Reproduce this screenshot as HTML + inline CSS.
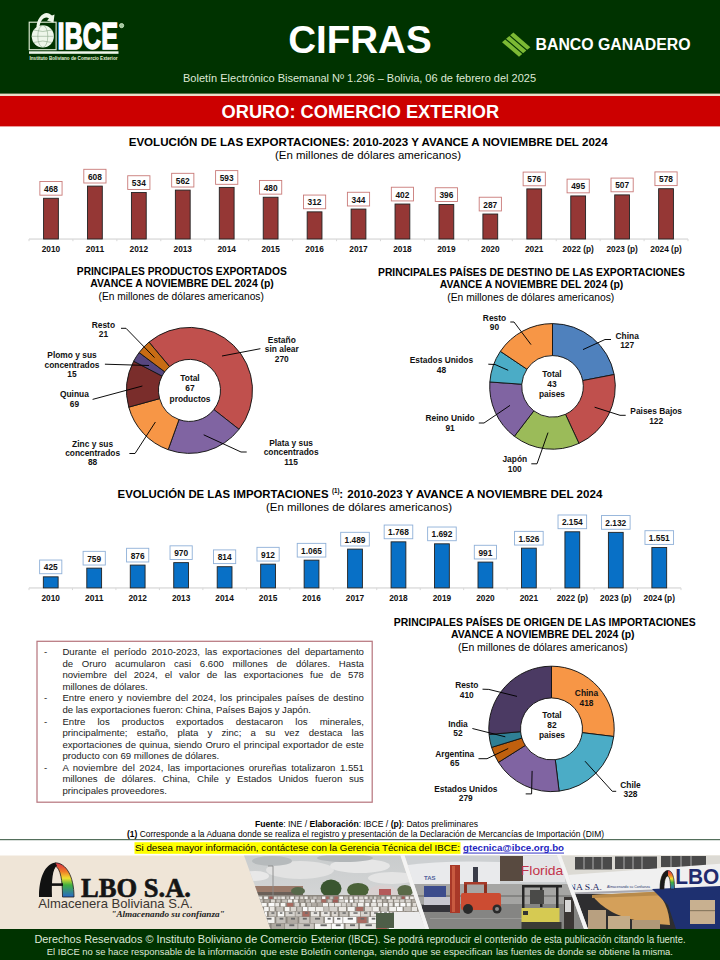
<!DOCTYPE html>
<html><head><meta charset="utf-8"><style>
html,body{margin:0;padding:0;background:#fff;}
#w{position:relative;width:720px;height:960px;overflow:hidden;}
svg{position:absolute;left:0;top:0;font-family:"Liberation Sans", sans-serif;}
.tb{position:absolute;font-family:"Liberation Sans", sans-serif;font-size:9.6px;line-height:11.58px;color:#222;white-space:nowrap;}
.tb.j{text-align:justify;text-align-last:justify;white-space:normal;}
</style></head><body><div id="w">
<svg width="720" height="960" viewBox="0 0 720 960">
<rect x="0.00" y="0.00" width="720.00" height="94.00" fill="#003300"/>
<rect x="0.00" y="93.60" width="720.00" height="2.50" fill="#ecdcc8"/>
<rect x="0.00" y="96.00" width="720.00" height="30.40" fill="#cc0000"/>
<text x="288.20" y="52.60" font-size="38" font-weight="bold" fill="#fff" textLength="143.5" lengthAdjust="spacingAndGlyphs">CIFRAS</text>
<text x="183.00" y="82.00" font-size="11.6" fill="#dfe9d6" textLength="353" lengthAdjust="spacingAndGlyphs">Boletín Electrónico Bisemanal Nº 1.296 – Bolivia, 06 de febrero del 2025</text>
<text x="221.60" y="117.90" font-size="18.2" font-weight="bold" fill="#fff" textLength="277.5" lengthAdjust="spacingAndGlyphs">ORURO: COMERCIO EXTERIOR</text>
<polygon points="509.0,32.0 515.0,32.0 531.0,46.0" fill="none"/>
<polygon points="515.2,32.0 521.2,32.0 531.0,46.0" fill="none"/>
<polygon points="521.4,32.0 527.4,32.0 531.0,46.0" fill="none"/>
<polygon points="502.03,42.14 505.24,39.43 522.24,54.03 519.03,56.74" fill="#7cb934"/><polygon points="506.09,38.71 509.31,35.99 526.31,50.59 523.09,53.31" fill="#7cb934"/><polygon points="510.16,35.27 513.37,32.56 530.37,47.16 527.16,49.87" fill="#7cb934"/>
<text x="535.50" y="49.60" font-size="15.6" font-weight="bold" fill="#fff" textLength="155" lengthAdjust="spacingAndGlyphs">BANCO GANADERO</text>
<g stroke="#e6f2dc" fill="none"><rect x="29.2" y="22.2" width="26.9" height="27.5" stroke-width="1.1"/></g>
<circle cx="42.8" cy="36.3" r="11.1" fill="#eef6ea"/>
<g stroke="#7a9a78" stroke-width="0.5" fill="none"><ellipse cx="42.8" cy="36.3" rx="5" ry="11"/><line x1="31.7" y1="36.3" x2="53.9" y2="36.3"/><path d="M33.5,30 Q42.8,33 52,30"/><path d="M33.5,42.5 Q42.8,39.5 52,42.5"/></g>
<path d="M36.5,29 C36,18 44,11 49,13.5 L52,15.5 L54.5,14.5 L53.5,22.5 L47,20.5 L49,18.5 C45,15.5 40,20 39.5,27 Z" fill="#eef6ea"/>
<text x="57.60" y="48.50" font-size="36.2" font-weight="bold" fill="#fff" textLength="60.4" lengthAdjust="spacingAndGlyphs" stroke="#fff" stroke-width="1.5">IBCE</text>
<circle cx="121.6" cy="25.6" r="2.1" fill="#9fc49a" stroke="#d8ecd0" stroke-width="0.8"/>
<rect x="29.00" y="51.30" width="89.50" height="2.50" fill="#eef6ea"/>
<text x="29.50" y="59.50" font-size="5.2" font-weight="bold" fill="#e6f2dc" textLength="88" lengthAdjust="spacingAndGlyphs">Instituto Boliviano de Comercio Exterior</text>
<text x="368.20" y="146.00" font-size="11.6" font-weight="bold" text-anchor="middle" fill="#000" textLength="479" lengthAdjust="spacingAndGlyphs">EVOLUCIÓN DE LAS EXPORTACIONES: 2010-2023 Y AVANCE A NOVIEMBRE DEL 2024</text>
<text x="368.00" y="158.50" font-size="11.4" text-anchor="middle" fill="#000" textLength="186" lengthAdjust="spacingAndGlyphs">(En millones de dólares americanos)</text>
<rect x="29.00" y="238.40" width="659.00" height="1.30" fill="#d9d9d9"/>
<rect x="28.50" y="239.00" width="1.00" height="2.20" fill="#d9d9d9"/>
<rect x="72.43" y="239.00" width="1.00" height="2.20" fill="#d9d9d9"/>
<rect x="116.37" y="239.00" width="1.00" height="2.20" fill="#d9d9d9"/>
<rect x="160.30" y="239.00" width="1.00" height="2.20" fill="#d9d9d9"/>
<rect x="204.23" y="239.00" width="1.00" height="2.20" fill="#d9d9d9"/>
<rect x="248.17" y="239.00" width="1.00" height="2.20" fill="#d9d9d9"/>
<rect x="292.10" y="239.00" width="1.00" height="2.20" fill="#d9d9d9"/>
<rect x="336.03" y="239.00" width="1.00" height="2.20" fill="#d9d9d9"/>
<rect x="379.97" y="239.00" width="1.00" height="2.20" fill="#d9d9d9"/>
<rect x="423.90" y="239.00" width="1.00" height="2.20" fill="#d9d9d9"/>
<rect x="467.83" y="239.00" width="1.00" height="2.20" fill="#d9d9d9"/>
<rect x="511.77" y="239.00" width="1.00" height="2.20" fill="#d9d9d9"/>
<rect x="555.70" y="239.00" width="1.00" height="2.20" fill="#d9d9d9"/>
<rect x="599.63" y="239.00" width="1.00" height="2.20" fill="#d9d9d9"/>
<rect x="643.57" y="239.00" width="1.00" height="2.20" fill="#d9d9d9"/>
<rect x="687.50" y="239.00" width="1.00" height="2.20" fill="#d9d9d9"/>
<rect x="43.57" y="198.28" width="14.80" height="40.72" fill="#953735" stroke="#222" stroke-width="0.9"/>
<rect x="39.87" y="181.48" width="22.20" height="13.70" fill="#fff" stroke="#c97a78" stroke-width="0.9"/>
<text x="50.97" y="191.78" font-size="9.0" font-weight="bold" text-anchor="middle" fill="#111" textLength="13.93" lengthAdjust="spacingAndGlyphs">468</text>
<text x="50.97" y="251.70" font-size="8.9" font-weight="bold" text-anchor="middle" fill="#111" textLength="18.46" lengthAdjust="spacingAndGlyphs">2010</text>
<rect x="87.50" y="186.10" width="14.80" height="52.90" fill="#953735" stroke="#222" stroke-width="0.9"/>
<rect x="83.80" y="169.30" width="22.20" height="13.70" fill="#fff" stroke="#c97a78" stroke-width="0.9"/>
<text x="94.90" y="179.60" font-size="9.0" font-weight="bold" text-anchor="middle" fill="#111" textLength="13.93" lengthAdjust="spacingAndGlyphs">608</text>
<text x="94.90" y="251.70" font-size="8.9" font-weight="bold" text-anchor="middle" fill="#111" textLength="18.46" lengthAdjust="spacingAndGlyphs">2011</text>
<rect x="131.43" y="192.54" width="14.80" height="46.46" fill="#953735" stroke="#222" stroke-width="0.9"/>
<rect x="127.73" y="175.74" width="22.20" height="13.70" fill="#fff" stroke="#c97a78" stroke-width="0.9"/>
<text x="138.83" y="186.04" font-size="9.0" font-weight="bold" text-anchor="middle" fill="#111" textLength="13.93" lengthAdjust="spacingAndGlyphs">534</text>
<text x="138.83" y="251.70" font-size="8.9" font-weight="bold" text-anchor="middle" fill="#111" textLength="18.46" lengthAdjust="spacingAndGlyphs">2012</text>
<rect x="175.37" y="190.11" width="14.80" height="48.89" fill="#953735" stroke="#222" stroke-width="0.9"/>
<rect x="171.67" y="173.31" width="22.20" height="13.70" fill="#fff" stroke="#c97a78" stroke-width="0.9"/>
<text x="182.77" y="183.61" font-size="9.0" font-weight="bold" text-anchor="middle" fill="#111" textLength="13.93" lengthAdjust="spacingAndGlyphs">562</text>
<text x="182.77" y="251.70" font-size="8.9" font-weight="bold" text-anchor="middle" fill="#111" textLength="18.46" lengthAdjust="spacingAndGlyphs">2013</text>
<rect x="219.30" y="187.41" width="14.80" height="51.59" fill="#953735" stroke="#222" stroke-width="0.9"/>
<rect x="215.60" y="170.61" width="22.20" height="13.70" fill="#fff" stroke="#c97a78" stroke-width="0.9"/>
<text x="226.70" y="180.91" font-size="9.0" font-weight="bold" text-anchor="middle" fill="#111" textLength="13.93" lengthAdjust="spacingAndGlyphs">593</text>
<text x="226.70" y="251.70" font-size="8.9" font-weight="bold" text-anchor="middle" fill="#111" textLength="18.46" lengthAdjust="spacingAndGlyphs">2014</text>
<rect x="263.23" y="197.24" width="14.80" height="41.76" fill="#953735" stroke="#222" stroke-width="0.9"/>
<rect x="259.53" y="180.44" width="22.20" height="13.70" fill="#fff" stroke="#c97a78" stroke-width="0.9"/>
<text x="270.63" y="190.74" font-size="9.0" font-weight="bold" text-anchor="middle" fill="#111" textLength="13.93" lengthAdjust="spacingAndGlyphs">480</text>
<text x="270.63" y="251.70" font-size="8.9" font-weight="bold" text-anchor="middle" fill="#111" textLength="18.46" lengthAdjust="spacingAndGlyphs">2015</text>
<rect x="307.17" y="211.86" width="14.80" height="27.14" fill="#953735" stroke="#222" stroke-width="0.9"/>
<rect x="303.47" y="195.06" width="22.20" height="13.70" fill="#fff" stroke="#c97a78" stroke-width="0.9"/>
<text x="314.57" y="205.36" font-size="9.0" font-weight="bold" text-anchor="middle" fill="#111" textLength="13.93" lengthAdjust="spacingAndGlyphs">312</text>
<text x="314.57" y="251.70" font-size="8.9" font-weight="bold" text-anchor="middle" fill="#111" textLength="18.46" lengthAdjust="spacingAndGlyphs">2016</text>
<rect x="351.10" y="209.07" width="14.80" height="29.93" fill="#953735" stroke="#222" stroke-width="0.9"/>
<rect x="347.40" y="192.27" width="22.20" height="13.70" fill="#fff" stroke="#c97a78" stroke-width="0.9"/>
<text x="358.50" y="202.57" font-size="9.0" font-weight="bold" text-anchor="middle" fill="#111" textLength="13.93" lengthAdjust="spacingAndGlyphs">344</text>
<text x="358.50" y="251.70" font-size="8.9" font-weight="bold" text-anchor="middle" fill="#111" textLength="18.46" lengthAdjust="spacingAndGlyphs">2017</text>
<rect x="395.03" y="204.03" width="14.80" height="34.97" fill="#953735" stroke="#222" stroke-width="0.9"/>
<rect x="391.33" y="187.23" width="22.20" height="13.70" fill="#fff" stroke="#c97a78" stroke-width="0.9"/>
<text x="402.43" y="197.53" font-size="9.0" font-weight="bold" text-anchor="middle" fill="#111" textLength="13.93" lengthAdjust="spacingAndGlyphs">402</text>
<text x="402.43" y="251.70" font-size="8.9" font-weight="bold" text-anchor="middle" fill="#111" textLength="18.46" lengthAdjust="spacingAndGlyphs">2018</text>
<rect x="438.97" y="204.55" width="14.80" height="34.45" fill="#953735" stroke="#222" stroke-width="0.9"/>
<rect x="435.27" y="187.75" width="22.20" height="13.70" fill="#fff" stroke="#c97a78" stroke-width="0.9"/>
<text x="446.37" y="198.05" font-size="9.0" font-weight="bold" text-anchor="middle" fill="#111" textLength="13.93" lengthAdjust="spacingAndGlyphs">396</text>
<text x="446.37" y="251.70" font-size="8.9" font-weight="bold" text-anchor="middle" fill="#111" textLength="18.46" lengthAdjust="spacingAndGlyphs">2019</text>
<rect x="482.90" y="214.03" width="14.80" height="24.97" fill="#953735" stroke="#222" stroke-width="0.9"/>
<rect x="479.20" y="197.23" width="22.20" height="13.70" fill="#fff" stroke="#c97a78" stroke-width="0.9"/>
<text x="490.30" y="207.53" font-size="9.0" font-weight="bold" text-anchor="middle" fill="#111" textLength="13.93" lengthAdjust="spacingAndGlyphs">287</text>
<text x="490.30" y="251.70" font-size="8.9" font-weight="bold" text-anchor="middle" fill="#111" textLength="18.46" lengthAdjust="spacingAndGlyphs">2020</text>
<rect x="526.83" y="188.89" width="14.80" height="50.11" fill="#953735" stroke="#222" stroke-width="0.9"/>
<rect x="523.13" y="172.09" width="22.20" height="13.70" fill="#fff" stroke="#c97a78" stroke-width="0.9"/>
<text x="534.23" y="182.39" font-size="9.0" font-weight="bold" text-anchor="middle" fill="#111" textLength="13.93" lengthAdjust="spacingAndGlyphs">576</text>
<text x="534.23" y="251.70" font-size="8.9" font-weight="bold" text-anchor="middle" fill="#111" textLength="18.46" lengthAdjust="spacingAndGlyphs">2021</text>
<rect x="570.77" y="195.94" width="14.80" height="43.06" fill="#953735" stroke="#222" stroke-width="0.9"/>
<rect x="567.07" y="179.14" width="22.20" height="13.70" fill="#fff" stroke="#c97a78" stroke-width="0.9"/>
<text x="578.17" y="189.44" font-size="9.0" font-weight="bold" text-anchor="middle" fill="#111" textLength="13.93" lengthAdjust="spacingAndGlyphs">495</text>
<text x="578.17" y="251.70" font-size="8.9" font-weight="bold" text-anchor="middle" fill="#111" textLength="31.37" lengthAdjust="spacingAndGlyphs">2022 (p)</text>
<rect x="614.70" y="194.89" width="14.80" height="44.11" fill="#953735" stroke="#222" stroke-width="0.9"/>
<rect x="611.00" y="178.09" width="22.20" height="13.70" fill="#fff" stroke="#c97a78" stroke-width="0.9"/>
<text x="622.10" y="188.39" font-size="9.0" font-weight="bold" text-anchor="middle" fill="#111" textLength="13.93" lengthAdjust="spacingAndGlyphs">507</text>
<text x="622.10" y="251.70" font-size="8.9" font-weight="bold" text-anchor="middle" fill="#111" textLength="31.37" lengthAdjust="spacingAndGlyphs">2023 (p)</text>
<rect x="658.63" y="188.71" width="14.80" height="50.29" fill="#953735" stroke="#222" stroke-width="0.9"/>
<rect x="654.93" y="171.91" width="22.20" height="13.70" fill="#fff" stroke="#c97a78" stroke-width="0.9"/>
<text x="666.03" y="182.21" font-size="9.0" font-weight="bold" text-anchor="middle" fill="#111" textLength="13.93" lengthAdjust="spacingAndGlyphs">578</text>
<text x="666.03" y="251.70" font-size="8.9" font-weight="bold" text-anchor="middle" fill="#111" textLength="31.37" lengthAdjust="spacingAndGlyphs">2024 (p)</text>
<text x="117.60" y="498.20" font-size="11.6" font-weight="bold" fill="#000" textLength="210.9" lengthAdjust="spacingAndGlyphs">EVOLUCIÓN DE LAS IMPORTACIONES</text>
<text x="332.00" y="492.60" font-size="7" font-weight="bold" fill="#000" textLength="7.6" lengthAdjust="spacingAndGlyphs">(1)</text>
<text x="339.20" y="498.20" font-size="11.6" font-weight="bold" fill="#000">:</text>
<text x="347.20" y="498.20" font-size="11.6" font-weight="bold" fill="#000" textLength="255.2" lengthAdjust="spacingAndGlyphs">2010-2023 Y AVANCE A NOVIEMBRE DEL 2024</text>
<text x="359.00" y="511.30" font-size="11.4" text-anchor="middle" fill="#000" textLength="186" lengthAdjust="spacingAndGlyphs">(En millones de dólares americanos)</text>
<rect x="29.00" y="587.30" width="652.00" height="1.30" fill="#d9d9d9"/>
<rect x="28.50" y="587.90" width="1.00" height="2.20" fill="#d9d9d9"/>
<rect x="71.97" y="587.90" width="1.00" height="2.20" fill="#d9d9d9"/>
<rect x="115.43" y="587.90" width="1.00" height="2.20" fill="#d9d9d9"/>
<rect x="158.90" y="587.90" width="1.00" height="2.20" fill="#d9d9d9"/>
<rect x="202.37" y="587.90" width="1.00" height="2.20" fill="#d9d9d9"/>
<rect x="245.83" y="587.90" width="1.00" height="2.20" fill="#d9d9d9"/>
<rect x="289.30" y="587.90" width="1.00" height="2.20" fill="#d9d9d9"/>
<rect x="332.77" y="587.90" width="1.00" height="2.20" fill="#d9d9d9"/>
<rect x="376.23" y="587.90" width="1.00" height="2.20" fill="#d9d9d9"/>
<rect x="419.70" y="587.90" width="1.00" height="2.20" fill="#d9d9d9"/>
<rect x="463.17" y="587.90" width="1.00" height="2.20" fill="#d9d9d9"/>
<rect x="506.63" y="587.90" width="1.00" height="2.20" fill="#d9d9d9"/>
<rect x="550.10" y="587.90" width="1.00" height="2.20" fill="#d9d9d9"/>
<rect x="593.57" y="587.90" width="1.00" height="2.20" fill="#d9d9d9"/>
<rect x="637.03" y="587.90" width="1.00" height="2.20" fill="#d9d9d9"/>
<rect x="680.50" y="587.90" width="1.00" height="2.20" fill="#d9d9d9"/>
<rect x="43.33" y="576.83" width="14.80" height="11.07" fill="#0870c6" stroke="#222" stroke-width="0.9"/>
<rect x="39.63" y="560.03" width="22.20" height="13.70" fill="#fff" stroke="#8fb0d8" stroke-width="0.9"/>
<text x="50.73" y="570.33" font-size="9.0" font-weight="bold" text-anchor="middle" fill="#111" textLength="13.93" lengthAdjust="spacingAndGlyphs">425</text>
<text x="50.73" y="601.20" font-size="8.9" font-weight="bold" text-anchor="middle" fill="#111" textLength="18.46" lengthAdjust="spacingAndGlyphs">2010</text>
<rect x="86.80" y="568.13" width="14.80" height="19.77" fill="#0870c6" stroke="#222" stroke-width="0.9"/>
<rect x="83.10" y="551.33" width="22.20" height="13.70" fill="#fff" stroke="#8fb0d8" stroke-width="0.9"/>
<text x="94.20" y="561.63" font-size="9.0" font-weight="bold" text-anchor="middle" fill="#111" textLength="13.93" lengthAdjust="spacingAndGlyphs">759</text>
<text x="94.20" y="601.20" font-size="8.9" font-weight="bold" text-anchor="middle" fill="#111" textLength="18.46" lengthAdjust="spacingAndGlyphs">2011</text>
<rect x="130.27" y="565.08" width="14.80" height="22.82" fill="#0870c6" stroke="#222" stroke-width="0.9"/>
<rect x="126.57" y="548.28" width="22.20" height="13.70" fill="#fff" stroke="#8fb0d8" stroke-width="0.9"/>
<text x="137.67" y="558.58" font-size="9.0" font-weight="bold" text-anchor="middle" fill="#111" textLength="13.93" lengthAdjust="spacingAndGlyphs">876</text>
<text x="137.67" y="601.20" font-size="8.9" font-weight="bold" text-anchor="middle" fill="#111" textLength="18.46" lengthAdjust="spacingAndGlyphs">2012</text>
<rect x="173.73" y="562.63" width="14.80" height="25.27" fill="#0870c6" stroke="#222" stroke-width="0.9"/>
<rect x="170.03" y="545.83" width="22.20" height="13.70" fill="#fff" stroke="#8fb0d8" stroke-width="0.9"/>
<text x="181.13" y="556.13" font-size="9.0" font-weight="bold" text-anchor="middle" fill="#111" textLength="13.93" lengthAdjust="spacingAndGlyphs">970</text>
<text x="181.13" y="601.20" font-size="8.9" font-weight="bold" text-anchor="middle" fill="#111" textLength="18.46" lengthAdjust="spacingAndGlyphs">2013</text>
<rect x="217.20" y="566.70" width="14.80" height="21.20" fill="#0870c6" stroke="#222" stroke-width="0.9"/>
<rect x="213.50" y="549.90" width="22.20" height="13.70" fill="#fff" stroke="#8fb0d8" stroke-width="0.9"/>
<text x="224.60" y="560.20" font-size="9.0" font-weight="bold" text-anchor="middle" fill="#111" textLength="13.93" lengthAdjust="spacingAndGlyphs">814</text>
<text x="224.60" y="601.20" font-size="8.9" font-weight="bold" text-anchor="middle" fill="#111" textLength="18.46" lengthAdjust="spacingAndGlyphs">2014</text>
<rect x="260.67" y="564.14" width="14.80" height="23.76" fill="#0870c6" stroke="#222" stroke-width="0.9"/>
<rect x="256.97" y="547.34" width="22.20" height="13.70" fill="#fff" stroke="#8fb0d8" stroke-width="0.9"/>
<text x="268.07" y="557.64" font-size="9.0" font-weight="bold" text-anchor="middle" fill="#111" textLength="13.93" lengthAdjust="spacingAndGlyphs">912</text>
<text x="268.07" y="601.20" font-size="8.9" font-weight="bold" text-anchor="middle" fill="#111" textLength="18.46" lengthAdjust="spacingAndGlyphs">2015</text>
<rect x="304.13" y="560.16" width="14.80" height="27.74" fill="#0870c6" stroke="#222" stroke-width="0.9"/>
<rect x="297.23" y="543.36" width="28.60" height="13.70" fill="#fff" stroke="#8fb0d8" stroke-width="0.9"/>
<text x="311.53" y="553.66" font-size="9.0" font-weight="bold" text-anchor="middle" fill="#111" textLength="20.89" lengthAdjust="spacingAndGlyphs">1.065</text>
<text x="311.53" y="601.20" font-size="8.9" font-weight="bold" text-anchor="middle" fill="#111" textLength="18.46" lengthAdjust="spacingAndGlyphs">2016</text>
<rect x="347.60" y="549.11" width="14.80" height="38.79" fill="#0870c6" stroke="#222" stroke-width="0.9"/>
<rect x="340.70" y="532.31" width="28.60" height="13.70" fill="#fff" stroke="#8fb0d8" stroke-width="0.9"/>
<text x="355.00" y="542.61" font-size="9.0" font-weight="bold" text-anchor="middle" fill="#111" textLength="20.89" lengthAdjust="spacingAndGlyphs">1.489</text>
<text x="355.00" y="601.20" font-size="8.9" font-weight="bold" text-anchor="middle" fill="#111" textLength="18.46" lengthAdjust="spacingAndGlyphs">2017</text>
<rect x="391.07" y="541.84" width="14.80" height="46.06" fill="#0870c6" stroke="#222" stroke-width="0.9"/>
<rect x="384.17" y="525.04" width="28.60" height="13.70" fill="#fff" stroke="#8fb0d8" stroke-width="0.9"/>
<text x="398.47" y="535.34" font-size="9.0" font-weight="bold" text-anchor="middle" fill="#111" textLength="20.89" lengthAdjust="spacingAndGlyphs">1.768</text>
<text x="398.47" y="601.20" font-size="8.9" font-weight="bold" text-anchor="middle" fill="#111" textLength="18.46" lengthAdjust="spacingAndGlyphs">2018</text>
<rect x="434.53" y="543.82" width="14.80" height="44.08" fill="#0870c6" stroke="#222" stroke-width="0.9"/>
<rect x="427.63" y="527.02" width="28.60" height="13.70" fill="#fff" stroke="#8fb0d8" stroke-width="0.9"/>
<text x="441.93" y="537.32" font-size="9.0" font-weight="bold" text-anchor="middle" fill="#111" textLength="20.89" lengthAdjust="spacingAndGlyphs">1.692</text>
<text x="441.93" y="601.20" font-size="8.9" font-weight="bold" text-anchor="middle" fill="#111" textLength="18.46" lengthAdjust="spacingAndGlyphs">2019</text>
<rect x="478.00" y="562.08" width="14.80" height="25.82" fill="#0870c6" stroke="#222" stroke-width="0.9"/>
<rect x="474.30" y="545.28" width="22.20" height="13.70" fill="#fff" stroke="#8fb0d8" stroke-width="0.9"/>
<text x="485.40" y="555.58" font-size="9.0" font-weight="bold" text-anchor="middle" fill="#111" textLength="13.93" lengthAdjust="spacingAndGlyphs">991</text>
<text x="485.40" y="601.20" font-size="8.9" font-weight="bold" text-anchor="middle" fill="#111" textLength="18.46" lengthAdjust="spacingAndGlyphs">2020</text>
<rect x="521.47" y="548.15" width="14.80" height="39.75" fill="#0870c6" stroke="#222" stroke-width="0.9"/>
<rect x="514.57" y="531.35" width="28.60" height="13.70" fill="#fff" stroke="#8fb0d8" stroke-width="0.9"/>
<text x="528.87" y="541.65" font-size="9.0" font-weight="bold" text-anchor="middle" fill="#111" textLength="20.89" lengthAdjust="spacingAndGlyphs">1.526</text>
<text x="528.87" y="601.20" font-size="8.9" font-weight="bold" text-anchor="middle" fill="#111" textLength="18.46" lengthAdjust="spacingAndGlyphs">2021</text>
<rect x="564.93" y="531.79" width="14.80" height="56.11" fill="#0870c6" stroke="#222" stroke-width="0.9"/>
<rect x="558.03" y="514.99" width="28.60" height="13.70" fill="#fff" stroke="#8fb0d8" stroke-width="0.9"/>
<text x="572.33" y="525.29" font-size="9.0" font-weight="bold" text-anchor="middle" fill="#111" textLength="20.89" lengthAdjust="spacingAndGlyphs">2.154</text>
<text x="572.33" y="601.20" font-size="8.9" font-weight="bold" text-anchor="middle" fill="#111" textLength="31.37" lengthAdjust="spacingAndGlyphs">2022 (p)</text>
<rect x="608.40" y="532.36" width="14.80" height="55.54" fill="#0870c6" stroke="#222" stroke-width="0.9"/>
<rect x="601.50" y="515.56" width="28.60" height="13.70" fill="#fff" stroke="#8fb0d8" stroke-width="0.9"/>
<text x="615.80" y="525.86" font-size="9.0" font-weight="bold" text-anchor="middle" fill="#111" textLength="20.89" lengthAdjust="spacingAndGlyphs">2.132</text>
<text x="615.80" y="601.20" font-size="8.9" font-weight="bold" text-anchor="middle" fill="#111" textLength="31.37" lengthAdjust="spacingAndGlyphs">2023 (p)</text>
<rect x="651.87" y="547.50" width="14.80" height="40.40" fill="#0870c6" stroke="#222" stroke-width="0.9"/>
<rect x="644.97" y="530.70" width="28.60" height="13.70" fill="#fff" stroke="#8fb0d8" stroke-width="0.9"/>
<text x="659.27" y="541.00" font-size="9.0" font-weight="bold" text-anchor="middle" fill="#111" textLength="20.89" lengthAdjust="spacingAndGlyphs">1.551</text>
<text x="659.27" y="601.20" font-size="8.9" font-weight="bold" text-anchor="middle" fill="#111" textLength="31.37" lengthAdjust="spacingAndGlyphs">2024 (p)</text>
<text x="181.80" y="275.30" font-size="10.2" font-weight="bold" text-anchor="middle" fill="#000" textLength="210" lengthAdjust="spacingAndGlyphs">PRINCIPALES PRODUCTOS EXPORTADOS</text>
<text x="182.10" y="287.30" font-size="10.2" font-weight="bold" text-anchor="middle" fill="#000" textLength="183.5" lengthAdjust="spacingAndGlyphs">AVANCE A NOVIEMBRE DEL 2024 (p)</text>
<text x="181.20" y="300.00" font-size="10.2" text-anchor="middle" fill="#000" textLength="165.3" lengthAdjust="spacingAndGlyphs">(En millones de dólares americanos)</text>
<path d="M149.00,342.14 A63,63 0 0 1 239.03,429.33 L213.87,409.56 A31,31 0 0 0 169.57,366.65 Z" fill="#c0504d" stroke="#141414" stroke-width="0.95"/>
<path d="M239.03,429.33 A63,63 0 0 1 168.17,449.68 L179.00,419.57 A31,31 0 0 0 213.87,409.56 Z" fill="#8064a2" stroke="#141414" stroke-width="0.95"/>
<path d="M168.17,449.68 A63,63 0 0 1 128.76,407.13 L159.61,398.63 A31,31 0 0 0 179.00,419.57 Z" fill="#f79646" stroke="#141414" stroke-width="0.95"/>
<path d="M128.76,407.13 A63,63 0 0 1 133.66,361.23 L162.02,376.05 A31,31 0 0 0 159.61,398.63 Z" fill="#7a2d2b" stroke="#141414" stroke-width="0.95"/>
<path d="M133.66,361.23 A63,63 0 0 1 139.13,352.56 L164.72,371.78 A31,31 0 0 0 162.02,376.05 Z" fill="#57467f" stroke="#141414" stroke-width="0.95"/>
<path d="M139.13,352.56 A63,63 0 0 1 149.00,342.14 L169.57,366.65 A31,31 0 0 0 164.72,371.78 Z" fill="#c86c14" stroke="#141414" stroke-width="0.95"/>
<polyline points="121.00,328.30 126.00,328.30 154.50,357.60" fill="none" stroke="#000" stroke-width="0.95"/>
<polyline points="104.90,364.20 149.00,365.50" fill="none" stroke="#000" stroke-width="0.95"/>
<polyline points="92.60,399.40 142.40,386.00" fill="none" stroke="#000" stroke-width="0.95"/>
<polyline points="129.40,453.50 135.00,453.50 155.40,422.00" fill="none" stroke="#000" stroke-width="0.95"/>
<polyline points="246.70,452.00 241.00,452.00 203.70,434.80" fill="none" stroke="#000" stroke-width="0.95"/>
<polyline points="260.40,348.70 222.00,356.00" fill="none" stroke="#000" stroke-width="0.95"/>
<text x="103.40" y="327.60" font-size="8.4" font-weight="bold" text-anchor="middle" fill="#111">Resto</text>
<text x="103.40" y="337.20" font-size="8.4" font-weight="bold" text-anchor="middle" fill="#111">21</text>
<text x="72.00" y="358.00" font-size="8.4" font-weight="bold" text-anchor="middle" fill="#111">Plomo y sus</text>
<text x="72.00" y="367.60" font-size="8.4" font-weight="bold" text-anchor="middle" fill="#111">concentrados</text>
<text x="72.00" y="377.20" font-size="8.4" font-weight="bold" text-anchor="middle" fill="#111">15</text>
<text x="74.40" y="397.40" font-size="8.4" font-weight="bold" text-anchor="middle" fill="#111">Quinua</text>
<text x="74.40" y="407.00" font-size="8.4" font-weight="bold" text-anchor="middle" fill="#111">69</text>
<text x="92.60" y="446.60" font-size="8.4" font-weight="bold" text-anchor="middle" fill="#111">Zinc y sus</text>
<text x="92.60" y="456.00" font-size="8.4" font-weight="bold" text-anchor="middle" fill="#111">concentrados</text>
<text x="92.60" y="465.40" font-size="8.4" font-weight="bold" text-anchor="middle" fill="#111">88</text>
<text x="291.10" y="446.00" font-size="8.4" font-weight="bold" text-anchor="middle" fill="#111">Plata y sus</text>
<text x="291.10" y="455.40" font-size="8.4" font-weight="bold" text-anchor="middle" fill="#111">concentrados</text>
<text x="291.10" y="464.80" font-size="8.4" font-weight="bold" text-anchor="middle" fill="#111">115</text>
<text x="281.80" y="342.90" font-size="8.4" font-weight="bold" text-anchor="middle" fill="#111">Estaño</text>
<text x="281.80" y="352.40" font-size="8.4" font-weight="bold" text-anchor="middle" fill="#111">sin alear</text>
<text x="281.80" y="362.00" font-size="8.4" font-weight="bold" text-anchor="middle" fill="#111">270</text>
<text x="190.00" y="381.30" font-size="8.4" font-weight="bold" text-anchor="middle" fill="#111">Total</text>
<text x="190.00" y="391.40" font-size="8.4" font-weight="bold" text-anchor="middle" fill="#111">67</text>
<text x="190.00" y="401.50" font-size="8.4" font-weight="bold" text-anchor="middle" fill="#111">productos</text>
<text x="531.40" y="275.90" font-size="10.3" font-weight="bold" text-anchor="middle" fill="#000" textLength="306.8" lengthAdjust="spacingAndGlyphs">PRINCIPALES PAÍSES DE DESTINO DE LAS EXPORTACIONES</text>
<text x="531.60" y="287.90" font-size="10.2" font-weight="bold" text-anchor="middle" fill="#000" textLength="183.5" lengthAdjust="spacingAndGlyphs">AVANCE A NOVIEMBRE DEL 2024 (p)</text>
<text x="530.80" y="300.90" font-size="10.2" text-anchor="middle" fill="#000" textLength="167" lengthAdjust="spacingAndGlyphs">(En millones de dólares americanos)</text>
<path d="M552.50,323.60 A62.8,62.8 0 0 1 614.17,374.53 L582.74,380.58 A30.8,30.8 0 0 0 552.50,355.60 Z" fill="#4f81bd" stroke="#141414" stroke-width="0.95"/>
<path d="M614.17,374.53 A62.8,62.8 0 0 1 578.95,443.36 L565.47,414.33 A30.8,30.8 0 0 0 582.74,380.58 Z" fill="#c0504d" stroke="#141414" stroke-width="0.95"/>
<path d="M578.95,443.36 A62.8,62.8 0 0 1 514.38,436.31 L533.81,410.88 A30.8,30.8 0 0 0 565.47,414.33 Z" fill="#9bbb59" stroke="#141414" stroke-width="0.95"/>
<path d="M514.38,436.31 A62.8,62.8 0 0 1 489.86,381.97 L521.78,384.23 A30.8,30.8 0 0 0 533.81,410.88 Z" fill="#8064a2" stroke="#141414" stroke-width="0.95"/>
<path d="M489.86,381.97 A62.8,62.8 0 0 1 500.40,351.33 L526.95,369.20 A30.8,30.8 0 0 0 521.78,384.23 Z" fill="#4bacc6" stroke="#141414" stroke-width="0.95"/>
<path d="M500.40,351.33 A62.8,62.8 0 0 1 552.50,323.60 L552.50,355.60 A30.8,30.8 0 0 0 526.95,369.20 Z" fill="#f79646" stroke="#141414" stroke-width="0.95"/>
<polyline points="510.30,322.00 514.00,322.00 531.00,344.60" fill="none" stroke="#000" stroke-width="0.95"/>
<polyline points="488.30,364.20 495.00,364.50 508.20,370.30" fill="none" stroke="#000" stroke-width="0.95"/>
<polyline points="478.80,423.00 484.00,423.00 510.00,405.40" fill="none" stroke="#000" stroke-width="0.95"/>
<polyline points="531.30,463.80 537.00,463.80 548.00,432.60" fill="none" stroke="#000" stroke-width="0.95"/>
<polyline points="625.70,415.30 620.00,415.30 594.60,407.20" fill="none" stroke="#000" stroke-width="0.95"/>
<polyline points="611.00,339.50 605.00,339.50 583.00,349.60" fill="none" stroke="#000" stroke-width="0.95"/>
<text x="494.50" y="320.80" font-size="8.4" font-weight="bold" text-anchor="middle" fill="#111">Resto</text>
<text x="494.50" y="330.30" font-size="8.4" font-weight="bold" text-anchor="middle" fill="#111">90</text>
<text x="441.40" y="363.00" font-size="8.4" font-weight="bold" text-anchor="middle" fill="#111">Estados Unidos</text>
<text x="441.40" y="372.50" font-size="8.4" font-weight="bold" text-anchor="middle" fill="#111">48</text>
<text x="450.10" y="421.00" font-size="8.4" font-weight="bold" text-anchor="middle" fill="#111">Reino Unido</text>
<text x="450.10" y="430.70" font-size="8.4" font-weight="bold" text-anchor="middle" fill="#111">91</text>
<text x="514.80" y="461.80" font-size="8.4" font-weight="bold" text-anchor="middle" fill="#111">Japón</text>
<text x="514.80" y="471.60" font-size="8.4" font-weight="bold" text-anchor="middle" fill="#111">100</text>
<text x="656.20" y="413.80" font-size="8.4" font-weight="bold" text-anchor="middle" fill="#111">Paises Bajos</text>
<text x="656.20" y="423.50" font-size="8.4" font-weight="bold" text-anchor="middle" fill="#111">122</text>
<text x="627.20" y="338.50" font-size="8.4" font-weight="bold" text-anchor="middle" fill="#111">China</text>
<text x="627.20" y="348.20" font-size="8.4" font-weight="bold" text-anchor="middle" fill="#111">127</text>
<text x="552.00" y="376.70" font-size="8.4" font-weight="bold" text-anchor="middle" fill="#111">Total</text>
<text x="552.00" y="386.50" font-size="8.4" font-weight="bold" text-anchor="middle" fill="#111">43</text>
<text x="552.00" y="396.60" font-size="8.4" font-weight="bold" text-anchor="middle" fill="#111">paises</text>
<text x="544.70" y="626.20" font-size="10.3" font-weight="bold" text-anchor="middle" fill="#000" textLength="301.8" lengthAdjust="spacingAndGlyphs">PRINCIPALES PAÍSES DE ORIGEN DE LAS IMPORTACIONES</text>
<text x="542.80" y="638.10" font-size="10.2" font-weight="bold" text-anchor="middle" fill="#000" textLength="183.5" lengthAdjust="spacingAndGlyphs">AVANCE A NOVIEMBRE DEL 2024 (p)</text>
<text x="542.80" y="650.80" font-size="10.2" text-anchor="middle" fill="#000" textLength="169.7" lengthAdjust="spacingAndGlyphs">(En millones de dólares americanos)</text>
<path d="M551.50,666.20 A62.7,62.7 0 0 1 613.74,736.50 L582.27,732.66 A31,31 0 0 0 551.50,697.90 Z" fill="#f79646" stroke="#141414" stroke-width="0.95"/>
<path d="M613.74,736.50 A62.7,62.7 0 0 1 559.10,791.14 L555.26,759.67 A31,31 0 0 0 582.27,732.66 Z" fill="#4bacc6" stroke="#141414" stroke-width="0.95"/>
<path d="M559.10,791.14 A62.7,62.7 0 0 1 498.47,762.35 L525.28,745.44 A31,31 0 0 0 555.26,759.67 Z" fill="#8064a2" stroke="#141414" stroke-width="0.95"/>
<path d="M498.47,762.35 A62.7,62.7 0 0 1 491.59,747.40 L521.88,738.05 A31,31 0 0 0 525.28,745.44 Z" fill="#c0600e" stroke="#141414" stroke-width="0.95"/>
<path d="M491.59,747.40 A62.7,62.7 0 0 1 489.05,734.48 L520.62,731.66 A31,31 0 0 0 521.88,738.05 Z" fill="#2f7f95" stroke="#141414" stroke-width="0.95"/>
<path d="M489.05,734.48 A62.7,62.7 0 0 1 551.50,666.20 L551.50,697.90 A31,31 0 0 0 520.62,731.66 Z" fill="#4b3a63" stroke="#141414" stroke-width="0.95"/>
<polyline points="585.00,761.20 612.30,791.30 616.20,791.30" fill="none" stroke="#000" stroke-width="0.95"/>
<polyline points="525.70,793.90 531.60,793.90 532.10,770.90" fill="none" stroke="#000" stroke-width="0.95"/>
<polyline points="478.50,758.70 487.00,758.70 508.20,748.50" fill="none" stroke="#000" stroke-width="0.95"/>
<polyline points="472.40,728.50 505.30,736.80" fill="none" stroke="#000" stroke-width="0.95"/>
<polyline points="482.50,689.20 488.80,689.40 517.00,696.40" fill="none" stroke="#000" stroke-width="0.95"/>
<text x="586.50" y="696.00" font-size="8.4" font-weight="bold" text-anchor="middle" fill="#111">China</text>
<text x="586.50" y="705.70" font-size="8.4" font-weight="bold" text-anchor="middle" fill="#111">418</text>
<text x="630.50" y="788.10" font-size="8.4" font-weight="bold" text-anchor="middle" fill="#111">Chile</text>
<text x="630.50" y="797.40" font-size="8.4" font-weight="bold" text-anchor="middle" fill="#111">328</text>
<text x="465.80" y="792.20" font-size="8.4" font-weight="bold" text-anchor="middle" fill="#111">Estados Unidos</text>
<text x="465.80" y="801.40" font-size="8.4" font-weight="bold" text-anchor="middle" fill="#111">279</text>
<text x="454.70" y="756.70" font-size="8.4" font-weight="bold" text-anchor="middle" fill="#111">Argentina</text>
<text x="454.70" y="766.00" font-size="8.4" font-weight="bold" text-anchor="middle" fill="#111">65</text>
<text x="458.00" y="726.50" font-size="8.4" font-weight="bold" text-anchor="middle" fill="#111">India</text>
<text x="458.00" y="735.80" font-size="8.4" font-weight="bold" text-anchor="middle" fill="#111">52</text>
<text x="466.80" y="688.30" font-size="8.4" font-weight="bold" text-anchor="middle" fill="#111">Resto</text>
<text x="466.80" y="697.50" font-size="8.4" font-weight="bold" text-anchor="middle" fill="#111">410</text>
<text x="552.00" y="718.00" font-size="8.4" font-weight="bold" text-anchor="middle" fill="#111">Total</text>
<text x="552.00" y="728.10" font-size="8.4" font-weight="bold" text-anchor="middle" fill="#111">82</text>
<text x="552.00" y="737.80" font-size="8.4" font-weight="bold" text-anchor="middle" fill="#111">paises</text>
<rect x="37.00" y="641.30" width="335.20" height="160.90" fill="#fff" stroke="#b87880" stroke-width="1.25"/>
<text x="255" y="827.2" font-size="8.6" fill="#000"><tspan font-weight="bold">Fuente</tspan>: INE / <tspan font-weight="bold">Elaboración</tspan>: IBCE / <tspan font-weight="bold">(p)</tspan>: Datos preliminares</text>
<text x="127" y="837.3" font-size="8.45" fill="#000" textLength="477" lengthAdjust="spacingAndGlyphs"><tspan font-weight="bold">(1)</tspan> Corresponde a la Aduana donde se realiza el registro y presentación de la Declaración de Mercancías de Importación (DIM)</text>
<rect x="0.00" y="839.10" width="720.00" height="1.10" fill="#42604a"/>
<rect x="134.50" y="842.20" width="326.00" height="11.60" fill="#ffff00"/>
<text x="135.00" y="851.30" font-size="9.75" fill="#000" textLength="325" lengthAdjust="spacingAndGlyphs">Si desea mayor información, contáctese con la Gerencia Técnica del IBCE:</text>
<text x="463.00" y="851.30" font-size="9.7" font-weight="bold" fill="#1f1fbf" textLength="101" lengthAdjust="spacingAndGlyphs">gtecnica@ibce.org.bo</text>
<rect x="463.00" y="852.60" width="101.00" height="0.90" fill="#1f1fbf"/>
<rect x="0.00" y="855.50" width="720.00" height="73.50" fill="#efe5d7"/>
<defs><clipPath id="c1"><polygon points="244,855.5 400.5,855.5 425,929 270.5,929"/></clipPath><clipPath id="c2"><polygon points="404.5,855.5 557,855.5 584,929 429,929"/></clipPath><clipPath id="c3"><polygon points="561,855.5 720,855.5 720,929 588,929"/></clipPath><linearGradient id="sky1" x1="0" y1="0" x2="0" y2="1"><stop offset="0" stop-color="#c9cccd"/><stop offset="1" stop-color="#dcdcdc"/></linearGradient><linearGradient id="rb" x1="0" y1="0" x2="0" y2="1"><stop offset="0" stop-color="#d8304a"/><stop offset="0.25" stop-color="#f07828"/><stop offset="0.45" stop-color="#f0e030"/><stop offset="0.65" stop-color="#40b040"/><stop offset="1" stop-color="#2868c8"/></linearGradient></defs>
<g clip-path="url(#c1)"><rect x="240" y="855" width="200" height="75" fill="url(#sky1)"/><ellipse cx="300" cy="870" rx="34" ry="9" fill="#e2e2e2"/><ellipse cx="360" cy="866" rx="30" ry="7" fill="#e6e6e6"/><ellipse cx="392" cy="878" rx="24" ry="6" fill="#e4e4e4"/><ellipse cx="272" cy="861" rx="20" ry="5" fill="#b6babc"/><ellipse cx="345" cy="858" rx="28" ry="4" fill="#b2b6b8"/><ellipse cx="255" cy="876" rx="14" ry="5" fill="#e8e8e8"/><rect x="255" y="886" width="48" height="6" fill="#9a7a6a"/><rect x="255" y="892" width="48" height="3" fill="#6a6058"/><ellipse cx="331" cy="888.5" rx="10.5" ry="9" fill="#3a5630"/><ellipse cx="358" cy="890" rx="11" ry="7" fill="#4a6238"/><ellipse cx="298" cy="891" rx="7" ry="4" fill="#56684a"/><ellipse cx="405" cy="891" rx="8" ry="6" fill="#5a6a48"/><ellipse cx="383" cy="893" rx="15" ry="8" fill="#d8d0d0"/><rect x="379" y="889" width="12" height="8" fill="#b45a5a"/><rect x="240" y="895" width="200" height="35" fill="#8c877f"/><rect x="247.3" y="896.5" width="2.8" height="2.5" fill="#e8e6e2"/><rect x="251.8" y="896.5" width="2.7" height="2.5" fill="#dcd8d2"/><rect x="255.4" y="896.5" width="2.7" height="2.5" fill="#c4c0ba"/><rect x="258.8" y="896.5" width="3.3" height="2.5" fill="#e8e6e2"/><rect x="264.1" y="896.5" width="3.8" height="2.5" fill="#f2f1ee"/><rect x="269.3" y="896.5" width="3.3" height="2.5" fill="#a05c56"/><rect x="274.0" y="896.5" width="2.8" height="2.5" fill="#dcd8d2"/><rect x="277.5" y="896.5" width="3.1" height="2.5" fill="#d6d3ce"/><rect x="281.3" y="896.5" width="3.6" height="2.5" fill="#e8e6e2"/><rect x="286.4" y="896.5" width="2.6" height="2.5" fill="#c4c0ba"/><rect x="290.3" y="896.5" width="3.6" height="2.5" fill="#fafafa"/><rect x="295.3" y="896.5" width="3.4" height="2.5" fill="#d6d3ce"/><rect x="300.2" y="896.5" width="3.0" height="2.5" fill="#dcd8d2"/><rect x="304.5" y="896.5" width="3.2" height="2.5" fill="#f0eeea"/><rect x="309.7" y="896.5" width="2.7" height="2.5" fill="#b0aaa2"/><rect x="313.2" y="896.5" width="3.5" height="2.5" fill="#c8c4be"/><rect x="317.4" y="896.5" width="3.6" height="2.5" fill="#b0aaa2"/><rect x="322.1" y="896.5" width="3.2" height="2.5" fill="#fafafa"/><rect x="326.0" y="896.5" width="2.7" height="2.5" fill="#a86a60"/><rect x="330.2" y="896.5" width="2.6" height="2.5" fill="#c8c4be"/><rect x="334.3" y="896.5" width="3.9" height="2.5" fill="#a86a60"/><rect x="339.3" y="896.5" width="3.8" height="2.5" fill="#fafafa"/><rect x="344.2" y="896.5" width="3.7" height="2.5" fill="#c4c0ba"/><rect x="349.6" y="896.5" width="2.8" height="2.5" fill="#ece9e4"/><rect x="354.2" y="896.5" width="3.5" height="2.5" fill="#ece9e4"/><rect x="359.1" y="896.5" width="4.3" height="2.5" fill="#dcd8d2"/><rect x="364.4" y="896.5" width="3.3" height="2.5" fill="#ece9e4"/><rect x="369.6" y="896.5" width="2.8" height="2.5" fill="#c4c0ba"/><rect x="373.9" y="896.5" width="2.5" height="2.5" fill="#d6d3ce"/><rect x="377.4" y="896.5" width="2.5" height="2.5" fill="#b0aaa2"/><rect x="381.4" y="896.5" width="3.1" height="2.5" fill="#dcd8d2"/><rect x="386.5" y="896.5" width="3.8" height="2.5" fill="#fafafa"/><rect x="392.1" y="896.5" width="4.1" height="2.5" fill="#dcd8d2"/><rect x="397.3" y="896.5" width="3.3" height="2.5" fill="#c8c4be"/><rect x="401.8" y="896.5" width="2.9" height="2.5" fill="#a05c56"/><rect x="405.5" y="896.5" width="3.2" height="2.5" fill="#f2f1ee"/><rect x="410.1" y="896.5" width="3.6" height="2.5" fill="#f0eeea"/><rect x="414.3" y="896.5" width="4.2" height="2.5" fill="#d6d3ce"/><rect x="420.0" y="896.5" width="4.4" height="2.5" fill="#fafafa"/><rect x="425.2" y="896.5" width="4.2" height="2.5" fill="#a05c56"/><rect x="430.7" y="896.5" width="3.1" height="2.5" fill="#a86a60"/><rect x="247.1" y="899.5" width="5.0" height="3.0" fill="#f2f1ee"/><rect x="252.9" y="899.5" width="5.3" height="3.0" fill="#a86a60"/><rect x="259.6" y="899.5" width="3.1" height="3.0" fill="#c8c4be"/><rect x="264.5" y="899.5" width="4.7" height="3.0" fill="#b0aaa2"/><rect x="271.0" y="899.5" width="3.9" height="3.0" fill="#dcd8d2"/><rect x="276.5" y="899.5" width="3.8" height="3.0" fill="#c4c0ba"/><rect x="282.1" y="899.5" width="5.0" height="3.0" fill="#c4c0ba"/><rect x="287.9" y="899.5" width="4.2" height="3.0" fill="#f2f1ee"/><rect x="293.8" y="899.5" width="4.1" height="3.0" fill="#f0eeea"/><rect x="299.9" y="899.5" width="4.1" height="3.0" fill="#b0aaa2"/><rect x="305.9" y="899.5" width="3.9" height="3.0" fill="#c4c0ba"/><rect x="311.0" y="899.5" width="3.8" height="3.0" fill="#f0eeea"/><rect x="316.6" y="899.5" width="4.2" height="3.0" fill="#c8c4be"/><rect x="321.5" y="899.5" width="4.6" height="3.0" fill="#a86a60"/><rect x="327.7" y="899.5" width="4.1" height="3.0" fill="#c8c4be"/><rect x="332.9" y="899.5" width="4.9" height="3.0" fill="#a05c56"/><rect x="339.1" y="899.5" width="4.8" height="3.0" fill="#d6d3ce"/><rect x="344.7" y="899.5" width="3.3" height="3.0" fill="#fafafa"/><rect x="349.7" y="899.5" width="3.4" height="3.0" fill="#fafafa"/><rect x="354.6" y="899.5" width="3.8" height="3.0" fill="#d6d3ce"/><rect x="359.1" y="899.5" width="4.9" height="3.0" fill="#e8e6e2"/><rect x="365.3" y="899.5" width="5.2" height="3.0" fill="#c4c0ba"/><rect x="372.3" y="899.5" width="3.5" height="3.0" fill="#f6f6f4"/><rect x="377.1" y="899.5" width="4.8" height="3.0" fill="#dcd8d2"/><rect x="383.2" y="899.5" width="3.3" height="3.0" fill="#b0aaa2"/><rect x="388.3" y="899.5" width="4.6" height="3.0" fill="#dcd8d2"/><rect x="394.1" y="899.5" width="5.2" height="3.0" fill="#dcd8d2"/><rect x="400.1" y="899.5" width="4.2" height="3.0" fill="#d6d3ce"/><rect x="405.8" y="899.5" width="4.9" height="3.0" fill="#d6d3ce"/><rect x="411.9" y="899.5" width="4.7" height="3.0" fill="#b0aaa2"/><rect x="418.2" y="899.5" width="4.3" height="3.0" fill="#e8e6e2"/><rect x="424.3" y="899.5" width="3.1" height="3.0" fill="#f2f1ee"/><rect x="429.2" y="899.5" width="4.2" height="3.0" fill="#e8e6e2"/><rect x="248.5" y="903.0" width="4.9" height="3.5" fill="#a86a60"/><rect x="254.4" y="903.0" width="4.9" height="3.5" fill="#dcd8d2"/><rect x="261.2" y="903.0" width="5.5" height="3.5" fill="#f6f6f4"/><rect x="268.5" y="903.0" width="6.0" height="3.5" fill="#fafafa"/><rect x="275.3" y="903.0" width="3.8" height="3.5" fill="#e8e6e2"/><rect x="280.7" y="903.0" width="4.7" height="3.5" fill="#f6f6f4"/><rect x="287.1" y="903.0" width="6.0" height="3.5" fill="#a86a60"/><rect x="294.6" y="903.0" width="4.5" height="3.5" fill="#d6d3ce"/><rect x="301.1" y="903.0" width="4.1" height="3.5" fill="#ece9e4"/><rect x="307.1" y="903.0" width="4.0" height="3.5" fill="#c4c0ba"/><rect x="311.8" y="903.0" width="4.7" height="3.5" fill="#b0aaa2"/><rect x="317.7" y="903.0" width="4.5" height="3.5" fill="#b0aaa2"/><rect x="322.9" y="903.0" width="5.1" height="3.5" fill="#f2f1ee"/><rect x="329.1" y="903.0" width="4.9" height="3.5" fill="#e8e6e2"/><rect x="334.8" y="903.0" width="6.1" height="3.5" fill="#e8e6e2"/><rect x="341.6" y="903.0" width="4.3" height="3.5" fill="#d6d3ce"/><rect x="346.8" y="903.0" width="3.9" height="3.5" fill="#c8c4be"/><rect x="352.4" y="903.0" width="4.2" height="3.5" fill="#dcd8d2"/><rect x="358.0" y="903.0" width="5.5" height="3.5" fill="#f2f1ee"/><rect x="365.2" y="903.0" width="4.0" height="3.5" fill="#f6f6f4"/><rect x="371.1" y="903.0" width="5.3" height="3.5" fill="#e8e6e2"/><rect x="377.9" y="903.0" width="4.1" height="3.5" fill="#e8e6e2"/><rect x="383.2" y="903.0" width="4.4" height="3.5" fill="#f6f6f4"/><rect x="389.1" y="903.0" width="3.6" height="3.5" fill="#e8e6e2"/><rect x="394.7" y="903.0" width="4.2" height="3.5" fill="#f6f6f4"/><rect x="400.4" y="903.0" width="5.0" height="3.5" fill="#fafafa"/><rect x="406.7" y="903.0" width="4.0" height="3.5" fill="#f2f1ee"/><rect x="412.7" y="903.0" width="3.6" height="3.5" fill="#dcd8d2"/><rect x="417.7" y="903.0" width="4.0" height="3.5" fill="#fafafa"/><rect x="422.5" y="903.0" width="5.8" height="3.5" fill="#fafafa"/><rect x="429.6" y="903.0" width="6.0" height="3.5" fill="#a05c56"/><rect x="249.9" y="907.0" width="5.7" height="4.0" fill="#a86a60"/><rect x="257.3" y="907.0" width="5.0" height="4.0" fill="#a05c56"/><rect x="264.1" y="907.0" width="4.6" height="4.0" fill="#f6f6f4"/><rect x="269.8" y="907.0" width="4.7" height="4.0" fill="#ece9e4"/><rect x="276.3" y="907.0" width="6.9" height="4.0" fill="#c4c0ba"/><rect x="284.8" y="907.0" width="4.7" height="4.0" fill="#f6f6f4"/><rect x="290.7" y="907.0" width="5.4" height="4.0" fill="#dcd8d2"/><rect x="297.2" y="907.0" width="4.6" height="4.0" fill="#c4c0ba"/><rect x="302.9" y="907.0" width="4.5" height="4.0" fill="#fafafa"/><rect x="308.4" y="907.0" width="6.9" height="4.0" fill="#f2f1ee"/><rect x="316.0" y="907.0" width="7.4" height="4.0" fill="#f0eeea"/><rect x="324.1" y="907.0" width="4.6" height="4.0" fill="#c4c0ba"/><rect x="329.4" y="907.0" width="7.9" height="4.0" fill="#d6d3ce"/><rect x="338.9" y="907.0" width="7.1" height="4.0" fill="#ece9e4"/><rect x="347.6" y="907.0" width="7.1" height="4.0" fill="#f6f6f4"/><rect x="356.3" y="907.0" width="6.8" height="4.0" fill="#a86a60"/><rect x="365.0" y="907.0" width="6.8" height="4.0" fill="#dcd8d2"/><rect x="372.5" y="907.0" width="6.4" height="4.0" fill="#f2f1ee"/><rect x="380.7" y="907.0" width="6.6" height="4.0" fill="#c8c4be"/><rect x="389.2" y="907.0" width="6.8" height="4.0" fill="#f2f1ee"/><rect x="396.8" y="907.0" width="5.8" height="4.0" fill="#fafafa"/><rect x="404.0" y="907.0" width="6.8" height="4.0" fill="#c8c4be"/><rect x="411.7" y="907.0" width="5.4" height="4.0" fill="#e8e6e2"/><rect x="418.8" y="907.0" width="6.3" height="4.0" fill="#c8c4be"/><rect x="426.5" y="907.0" width="7.2" height="4.0" fill="#e8e6e2"/><rect x="246.9" y="911.5" width="9.6" height="5.0" fill="#c8c4be"/><rect x="250.3" y="912.3" width="3.9" height="1.5" fill="#6a6a6a"/><rect x="258.5" y="911.5" width="8.4" height="5.0" fill="#fafafa"/><rect x="261.5" y="912.3" width="3.3" height="1.5" fill="#6a6a6a"/><rect x="268.8" y="911.5" width="7.4" height="5.0" fill="#c8c4be"/><rect x="271.4" y="912.3" width="3.0" height="1.5" fill="#6a6a6a"/><rect x="277.7" y="911.5" width="6.4" height="5.0" fill="#f6f6f4"/><rect x="279.9" y="912.3" width="2.5" height="1.5" fill="#6a6a6a"/><rect x="285.5" y="911.5" width="9.3" height="5.0" fill="#d6d3ce"/><rect x="288.8" y="912.3" width="3.7" height="1.5" fill="#6a6a6a"/><rect x="295.5" y="911.5" width="6.3" height="5.0" fill="#c8c4be"/><rect x="297.7" y="912.3" width="2.5" height="1.5" fill="#6a6a6a"/><rect x="302.5" y="911.5" width="7.0" height="5.0" fill="#a86a60"/><rect x="305.0" y="912.3" width="2.8" height="1.5" fill="#6a6a6a"/><rect x="310.9" y="911.5" width="8.2" height="5.0" fill="#e8e6e2"/><rect x="313.8" y="912.3" width="3.3" height="1.5" fill="#6a6a6a"/><rect x="321.1" y="911.5" width="8.6" height="5.0" fill="#e8e6e2"/><rect x="324.1" y="912.3" width="3.5" height="1.5" fill="#6a6a6a"/><rect x="331.7" y="911.5" width="6.1" height="5.0" fill="#dcd8d2"/><rect x="333.8" y="912.3" width="2.4" height="1.5" fill="#6a6a6a"/><rect x="339.7" y="911.5" width="8.2" height="5.0" fill="#c4c0ba"/><rect x="342.5" y="912.3" width="3.3" height="1.5" fill="#6a6a6a"/><rect x="349.7" y="911.5" width="10.5" height="5.0" fill="#e8e6e2"/><rect x="353.4" y="912.3" width="4.2" height="1.5" fill="#6a6a6a"/><rect x="361.0" y="911.5" width="8.5" height="5.0" fill="#d6d3ce"/><rect x="364.0" y="912.3" width="3.4" height="1.5" fill="#6a6a6a"/><rect x="371.0" y="911.5" width="9.0" height="5.0" fill="#e8e6e2"/><rect x="374.1" y="912.3" width="3.6" height="1.5" fill="#6a6a6a"/><rect x="381.6" y="911.5" width="7.1" height="5.0" fill="#fafafa"/><rect x="384.1" y="912.3" width="2.8" height="1.5" fill="#6a6a6a"/><rect x="389.8" y="911.5" width="6.8" height="5.0" fill="#c8c4be"/><rect x="392.2" y="912.3" width="2.7" height="1.5" fill="#6a6a6a"/><rect x="397.8" y="911.5" width="7.4" height="5.0" fill="#b0aaa2"/><rect x="400.4" y="912.3" width="3.0" height="1.5" fill="#6a6a6a"/><rect x="406.4" y="911.5" width="6.6" height="5.0" fill="#b0aaa2"/><rect x="408.7" y="912.3" width="2.6" height="1.5" fill="#6a6a6a"/><rect x="414.6" y="911.5" width="10.0" height="5.0" fill="#c4c0ba"/><rect x="418.1" y="912.3" width="4.0" height="1.5" fill="#6a6a6a"/><rect x="426.3" y="911.5" width="10.3" height="5.0" fill="#b0aaa2"/><rect x="429.9" y="912.3" width="4.1" height="1.5" fill="#6a6a6a"/><rect x="247.6" y="917.0" width="12.7" height="6.0" fill="#ece9e4"/><rect x="252.0" y="917.8" width="5.1" height="1.8" fill="#6a6a6a"/><rect x="261.9" y="917.0" width="12.6" height="6.0" fill="#f2f1ee"/><rect x="266.4" y="917.8" width="5.1" height="1.8" fill="#6a6a6a"/><rect x="276.3" y="917.0" width="9.2" height="6.0" fill="#c4c0ba"/><rect x="279.6" y="917.8" width="3.7" height="1.8" fill="#6a6a6a"/><rect x="287.5" y="917.0" width="10.1" height="6.0" fill="#b0aaa2"/><rect x="291.0" y="917.8" width="4.0" height="1.8" fill="#6a6a6a"/><rect x="299.3" y="917.0" width="10.1" height="6.0" fill="#c8c4be"/><rect x="302.8" y="917.8" width="4.0" height="1.8" fill="#6a6a6a"/><rect x="310.5" y="917.0" width="12.8" height="6.0" fill="#c4c0ba"/><rect x="315.0" y="917.8" width="5.1" height="1.8" fill="#6a6a6a"/><rect x="324.9" y="917.0" width="7.8" height="6.0" fill="#fafafa"/><rect x="327.6" y="917.8" width="3.1" height="1.8" fill="#6a6a6a"/><rect x="334.2" y="917.0" width="8.3" height="6.0" fill="#fafafa"/><rect x="337.1" y="917.8" width="3.3" height="1.8" fill="#6a6a6a"/><rect x="343.2" y="917.0" width="13.1" height="6.0" fill="#fafafa"/><rect x="347.7" y="917.8" width="5.2" height="1.8" fill="#6a6a6a"/><rect x="357.4" y="917.0" width="9.2" height="6.0" fill="#a86a60"/><rect x="360.6" y="917.8" width="3.7" height="1.8" fill="#6a6a6a"/><rect x="368.6" y="917.0" width="9.1" height="6.0" fill="#f6f6f4"/><rect x="371.7" y="917.8" width="3.6" height="1.8" fill="#6a6a6a"/><rect x="378.9" y="917.0" width="11.5" height="6.0" fill="#c8c4be"/><rect x="382.9" y="917.8" width="4.6" height="1.8" fill="#6a6a6a"/><rect x="391.2" y="917.0" width="8.7" height="6.0" fill="#fafafa"/><rect x="394.3" y="917.8" width="3.5" height="1.8" fill="#6a6a6a"/><rect x="401.4" y="917.0" width="10.2" height="6.0" fill="#fafafa"/><rect x="404.9" y="917.8" width="4.1" height="1.8" fill="#6a6a6a"/><rect x="412.8" y="917.0" width="10.8" height="6.0" fill="#d6d3ce"/><rect x="416.6" y="917.8" width="4.3" height="1.8" fill="#6a6a6a"/><rect x="424.6" y="917.0" width="8.0" height="6.0" fill="#f6f6f4"/><rect x="427.5" y="917.8" width="3.2" height="1.8" fill="#6a6a6a"/><rect x="246.8" y="923.5" width="9.1" height="6.5" fill="#ece9e4"/><rect x="250.0" y="924.3" width="3.7" height="1.9" fill="#6a6a6a"/><rect x="257.1" y="923.5" width="12.8" height="6.5" fill="#b0aaa2"/><rect x="261.6" y="924.3" width="5.1" height="1.9" fill="#6a6a6a"/><rect x="271.6" y="923.5" width="12.6" height="6.5" fill="#b0aaa2"/><rect x="276.0" y="924.3" width="5.0" height="1.9" fill="#6a6a6a"/><rect x="284.9" y="923.5" width="12.6" height="6.5" fill="#c4c0ba"/><rect x="289.3" y="924.3" width="5.0" height="1.9" fill="#6a6a6a"/><rect x="298.3" y="923.5" width="15.5" height="6.5" fill="#c8c4be"/><rect x="303.7" y="924.3" width="6.2" height="1.9" fill="#6a6a6a"/><rect x="315.0" y="923.5" width="15.9" height="6.5" fill="#f2f1ee"/><rect x="320.5" y="924.3" width="6.3" height="1.9" fill="#6a6a6a"/><rect x="331.6" y="923.5" width="12.1" height="6.5" fill="#fafafa"/><rect x="335.8" y="924.3" width="4.8" height="1.9" fill="#6a6a6a"/><rect x="345.6" y="923.5" width="12.5" height="6.5" fill="#dcd8d2"/><rect x="350.0" y="924.3" width="5.0" height="1.9" fill="#6a6a6a"/><rect x="359.9" y="923.5" width="16.0" height="6.5" fill="#e8e6e2"/><rect x="365.5" y="924.3" width="6.4" height="1.9" fill="#6a6a6a"/><rect x="376.9" y="923.5" width="10.1" height="6.5" fill="#a05c56"/><rect x="380.4" y="924.3" width="4.0" height="1.9" fill="#6a6a6a"/><rect x="388.9" y="923.5" width="14.2" height="6.5" fill="#fafafa"/><rect x="393.8" y="924.3" width="5.7" height="1.9" fill="#6a6a6a"/><rect x="403.8" y="923.5" width="14.6" height="6.5" fill="#d6d3ce"/><rect x="408.9" y="924.3" width="5.8" height="1.9" fill="#6a6a6a"/><rect x="419.3" y="923.5" width="15.6" height="6.5" fill="#f6f6f4"/><rect x="424.8" y="924.3" width="6.2" height="1.9" fill="#6a6a6a"/><rect x="376" y="913" width="18" height="15" fill="#4e5e48"/><rect x="394" y="912" width="40" height="17" fill="#ececec"/><line x1="273" y1="866" x2="273" y2="896" stroke="#8a8a8a" stroke-width="0.9"/><line x1="268" y1="866" x2="273" y2="866" stroke="#8a8a8a" stroke-width="0.9"/></g>
<g clip-path="url(#c2)"><rect x="400" y="855" width="200" height="75" fill="#cdd0d2"/><path d="M400,866 Q440,860 500,862 L500,886 L400,888 Z" fill="#e9eaec"/><rect x="520" y="856" width="45" height="26" fill="#e4e4e6"/><rect x="400" y="884" width="200" height="12" fill="#a6a6a4"/><rect x="400" y="895" width="200" height="35" fill="#858583"/><rect x="400" y="897" width="200" height="7" fill="#a4a4a2"/><rect x="430" y="918" width="100" height="1" fill="#9a9a98"/><rect x="500" y="856" width="23" height="25" fill="#584a40"/><rect x="473" y="867" width="5" height="16" fill="#3a3c48"/><text x="520.8" y="875.3" font-size="13.6" fill="#c2334a" textLength="42.5" lengthAdjust="spacingAndGlyphs">Florida</text><text x="424" y="880" font-size="6" font-weight="bold" fill="#50609a">TAS</text><rect x="424" y="886" width="22" height="12" fill="#3c4c8c"/><rect x="424" y="897" width="28" height="10" fill="#c8c8d0"/><rect x="422" y="905" width="32" height="7" fill="#34343a"/><rect x="450" y="865" width="10" height="48" fill="#a83828"/><rect x="452" y="866" width="3" height="46" fill="#c85a40"/><rect x="464" y="882" width="3" height="12" fill="#8a3020"/><rect x="484" y="882" width="3" height="12" fill="#8a3020"/><rect x="464" y="882" width="23" height="2.5" fill="#a83a28"/><rect x="461" y="893" width="40" height="17" rx="2" fill="#cc4c32"/><circle cx="468" cy="909" r="5" fill="#2a2a2a"/><circle cx="497" cy="909" r="4.5" fill="#2a2a2a"/><circle cx="497" cy="909" r="2" fill="#888"/><g fill="#262626"><rect x="522" y="885" width="40" height="2.5"/><rect x="522" y="885" width="2.5" height="24"/><rect x="540" y="885" width="2.5" height="22"/><rect x="556" y="885" width="2.5" height="30"/></g><rect x="530" y="890" width="14" height="14" fill="#4a4a48"/><rect x="521.5" y="908" width="38" height="14" fill="#d6ca52"/><rect x="521.5" y="922" width="40" height="8" fill="#3a3a36"/><rect x="523" y="911" width="5" height="4" fill="#333"/><rect x="564" y="897" width="10" height="33" fill="#3a3634"/><rect x="565" y="900" width="6" height="12" fill="#d8d8d8"/></g>
<g clip-path="url(#c3)"><rect x="555" y="855" width="170" height="75" fill="#dcdad4"/><rect x="575" y="857" width="37" height="12.5" fill="#4a4a4a"/><rect x="615" y="856.5" width="42" height="12.5" fill="#4a4a4a"/><rect x="661" y="856" width="45" height="11" fill="#4a4a4a"/><g stroke="#b8b8b8" stroke-width="0.9"><line x1="584" y1="857" x2="584" y2="869"/><line x1="593" y1="857" x2="593" y2="869"/><line x1="602" y1="857" x2="602" y2="869"/><line x1="624" y1="856" x2="624" y2="869"/><line x1="633" y1="856" x2="633" y2="869"/><line x1="642" y1="856" x2="642" y2="869"/><line x1="671" y1="856" x2="671" y2="867"/><line x1="681" y1="856" x2="681" y2="867"/><line x1="691" y1="856" x2="691" y2="867"/></g><polygon points="560,875.5 720,863.7 720,887 560,893" fill="#f0f0f0"/><polygon points="560,893 720,887 720,889 560,895" fill="#a8a8b0"/><rect x="555" y="894" width="170" height="36" fill="#2e2e30"/><path d="M592,895 L655,892 Q668,900 670,925 Q630,922 612,912 Q598,904 592,895 Z" fill="#d4a05a"/><path d="M592,895 L670,891 L670,895 L592,898 Z" fill="#b88a4a"/><polygon points="652,889 720,886 720,929 676,929 668,905" fill="#1e3070"/><rect x="690" y="900" width="25" height="24" fill="#c8b090"/><rect x="690" y="910" width="25" height="1.2" fill="#8a7a60"/><rect x="588" y="910" width="18" height="19" fill="#b8a080"/><rect x="608" y="916" width="22" height="13" fill="#c4ac88"/><rect x="632" y="920" width="28" height="9" fill="#b09878"/><text x="569" y="890" font-size="8.5" fill="#1e2a60" font-family="Liberation Serif, serif" textLength="33" lengthAdjust="spacingAndGlyphs">NA S.A.</text><text x="607" y="887.5" font-size="4.2" fill="#2a3a70" textLength="43" lengthAdjust="spacingAndGlyphs">Almacenando su Confianza</text><path d="M660,889 C660,876 664,870.5 668,870.5 C672,870.5 674.5,876 674.5,889 L670.5,889 C670.5,881 669.5,876 667.5,876 C665.5,876 664,881 664,889 Z" fill="url(#rb)" stroke="#222" stroke-width="0.7"/><path d="M660,889 C660,876 664,870.5 668,870.5 L668,876 C665.5,876 664,881 664,889 Z" fill="#1a1a1a"/><text x="675.3" y="884.3" font-size="22" font-weight="bold" fill="#1f2a6e" textLength="44" lengthAdjust="spacingAndGlyphs">LBO</text></g>
<polygon points="400.5,855.5 404.5,855.5 429,929 425,929" fill="#f4f4f4"/>
<polygon points="557,855.5 561,855.5 588,929 584,929" fill="#f4f4f4"/>
<path d="M55,862.8 C66,862.8 74,876 74,897 L62.5,897 C62.5,880 60.5,869 55.5,866 Z" fill="url(#rb)" stroke="#1a1a1a" stroke-width="0.8"/>
<path d="M39,897 C39,878 45,864 55,862.8 L57,865.5 C52.5,869 51.5,880 52,897 Z" fill="#111"/>
<rect x="50.5" y="883.3" width="12.5" height="2.6" fill="#111"/>
<text x="81.00" y="897.40" font-size="26.5" font-weight="bold" fill="#151515" textLength="110" lengthAdjust="spacingAndGlyphs" font-family='"Liberation Serif", serif' stroke="#151515" stroke-width="0.6">LBO S.A.</text>
<text x="38.30" y="907.90" font-size="12.6" fill="#3b3530" textLength="154.5" lengthAdjust="spacingAndGlyphs">Almacenera Boliviana S.A.</text>
<text x="111.3" y="916.5" font-size="7.4" font-weight="bold" font-style="italic" fill="#222" font-family='"Liberation Serif", serif' textLength="113.4" lengthAdjust="spacingAndGlyphs">"Almacenando su confianza"</text>
<rect x="0.00" y="929.00" width="720.00" height="31.00" fill="#003300"/>
<text x="34.40" y="942.50" font-size="10.4" fill="#dfe9d8" textLength="272.6" lengthAdjust="spacingAndGlyphs">Derechos Reservados © Instituto Boliviano de Comercio</text>
<text x="311.00" y="942.50" font-size="10.4" fill="#dfe9d8" textLength="216.5" lengthAdjust="spacingAndGlyphs">Exterior (IBCE). Se podrá reproducir el contenido</text>
<text x="531.00" y="942.50" font-size="10.4" fill="#dfe9d8" textLength="154.5" lengthAdjust="spacingAndGlyphs">de esta publicación citando la fuente.</text>
<text x="46.80" y="955.30" font-size="9.9" fill="#dfe9d8" textLength="209.7" lengthAdjust="spacingAndGlyphs">El IBCE no se hace responsable de la información</text>
<text x="260.50" y="955.30" font-size="9.9" fill="#dfe9d8" textLength="232.0" lengthAdjust="spacingAndGlyphs">que este Boletín contenga, siendo que se especifican</text>
<text x="496.00" y="955.30" font-size="9.9" fill="#dfe9d8" textLength="177" lengthAdjust="spacingAndGlyphs">las fuentes de donde se obtiene la misma.</text>
</svg>
<div class="tb" style="left:44px;top:646.08px;width:10px">-</div>
<div class="tb j" style="left:62.4px;top:646.08px;width:301.5px">Durante el período 2010-2023, las exportaciones del departamento</div>
<div class="tb j" style="left:62.4px;top:657.66px;width:301.5px">de Oruro acumularon casi 6.600 millones de dólares. Hasta</div>
<div class="tb j" style="left:62.4px;top:669.24px;width:301.5px">noviembre del 2024, el valor de las exportaciones fue de 578</div>
<div class="tb" style="left:62.4px;top:680.82px;width:320px">millones de dólares.</div>
<div class="tb" style="left:44px;top:692.40px;width:10px">-</div>
<div class="tb j" style="left:62.4px;top:692.40px;width:301.5px">Entre enero y noviembre del 2024, los principales países de destino</div>
<div class="tb" style="left:62.4px;top:703.98px;width:320px">de las exportaciones fueron: China, Países Bajos y Japón.</div>
<div class="tb" style="left:44px;top:715.56px;width:10px">-</div>
<div class="tb j" style="left:62.4px;top:715.56px;width:301.5px">Entre los productos exportados destacaron los minerales,</div>
<div class="tb j" style="left:62.4px;top:727.14px;width:301.5px">principalmente; estaño, plata y zinc; a su vez destaca las</div>
<div class="tb j" style="left:62.4px;top:738.72px;width:301.5px">exportaciones de quinua, siendo Oruro el principal exportador de este</div>
<div class="tb" style="left:62.4px;top:750.30px;width:320px">producto con 69 millones de dólares.</div>
<div class="tb" style="left:44px;top:761.88px;width:10px">-</div>
<div class="tb j" style="left:62.4px;top:761.88px;width:301.5px">A noviembre del 2024, las importaciones orureñas totalizaron 1.551</div>
<div class="tb j" style="left:62.4px;top:773.46px;width:301.5px">millones de dólares. China, Chile y Estados Unidos fueron sus</div>
<div class="tb" style="left:62.4px;top:785.04px;width:320px">principales proveedores.</div>
</div></body></html>
